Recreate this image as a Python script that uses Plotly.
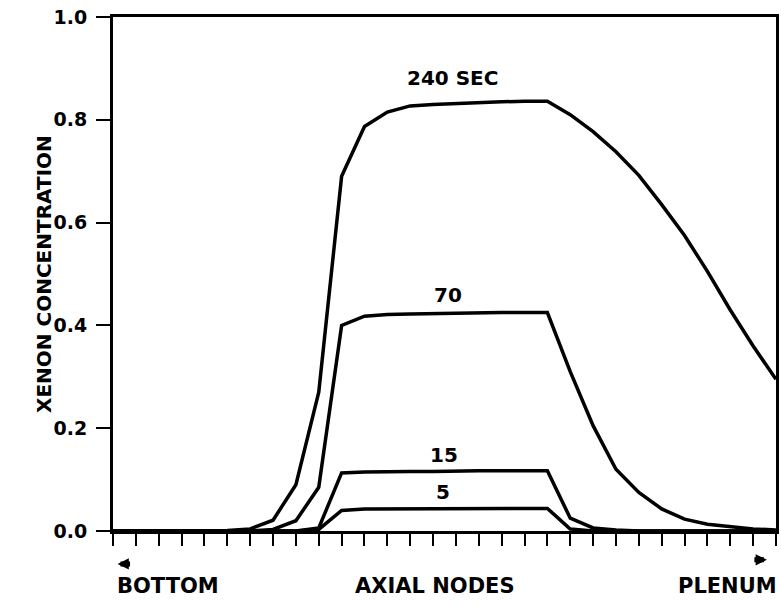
import plotly.graph_objects as go

nodes = list(range(30))
xe_5 = [0, 0, 0, 0, 0, 0, 0, 0, 0, 0.003, 0.040, 0.043, 0.043, 0.044, 0.044,
        0.044, 0.044, 0.044, 0.044, 0.044, 0.004, 0, 0, 0, 0, 0, 0, 0, 0, 0]
xe_15 = [0, 0, 0, 0, 0, 0, 0, 0, 0, 0.006, 0.113, 0.115, 0.116, 0.116, 0.116,
         0.117, 0.117, 0.117, 0.117, 0.117, 0.025, 0.006, 0.002, 0, 0, 0, 0, 0, 0, 0]
xe_70 = [0, 0, 0, 0, 0, 0, 0, 0.003, 0.02, 0.085, 0.40, 0.418, 0.421, 0.422, 0.423,
         0.424, 0.424, 0.425, 0.425, 0.425, 0.31, 0.205, 0.12, 0.075, 0.043, 0.023,
         0.013, 0.008, 0.004, 0.002]
xe_240 = [0, 0, 0, 0, 0, 0.001, 0.004, 0.021, 0.09, 0.27, 0.69, 0.787, 0.815, 0.827,
          0.830, 0.832, 0.834, 0.835, 0.836, 0.836, 0.81, 0.777, 0.738, 0.692, 0.635,
          0.575, 0.505, 0.43, 0.36, 0.295]

series = [("5", xe_5), ("15", xe_15), ("70", xe_70), ("240 SEC", xe_240)]
curve_labels = ["240 SEC", "70", "15", "5"]
y_ticks = [0.0, 0.2, 0.4, 0.6, 0.8, 1.0]

FONT = "DejaVu Sans"
fig = go.Figure()
for name, vals in series:
    fig.add_trace(go.Scatter(x=nodes, y=vals, mode="lines", name=name,
                             line=dict(color="black", width=3.5), showlegend=False))

fig.update_layout(
    width=781, height=607,
    margin=dict(l=113, r=2, t=17, b=76),
    paper_bgcolor="white", plot_bgcolor="white",
    font=dict(family=FONT, color="black", size=19, weight="bold"),
)
fig.update_xaxes(range=[0, 29], tick0=0, dtick=1, ticks="outside", ticklen=12,
                 tickwidth=2, tickcolor="black", showticklabels=False,
                 showline=True, linewidth=3, linecolor="black", mirror=True,
                 showgrid=False, zeroline=False)
fig.update_yaxes(range=[0, 1], tickvals=y_ticks, ticktext=[f"{v:.1f}" for v in y_ticks],
                 ticks="outside", ticklen=14, tickwidth=2, tickcolor="black",
                 ticklabelstandoff=5,
                 tickfont=dict(family=FONT, size=19, weight="bold", color="black"),
                 showline=True, linewidth=3, linecolor="black", mirror=True,
                 showgrid=False, zeroline=False)

label_pos = {"240 SEC": (14.87, 0.881), "70": (14.65, 0.459), "15": (14.48, 0.148), "5": (14.43, 0.076)}
for lab in curve_labels:
    lx, ly = label_pos[lab]
    fig.add_annotation(x=lx, y=ly, xref="x", yref="y", text=lab, showarrow=False,
                       font=dict(family=FONT, size=20, weight="bold", color="black"))

fig.add_annotation(x=0, y=0.5, xref="paper", yref="paper", xshift=-83,
                   text="XENON CONCENTRATION", textangle=-90, showarrow=False,
                   font=dict(family=FONT, size=20, weight="bold", color="black"))

bottom = [("BOTTOM", 2.39), ("AXIAL NODES", 14.09), ("PLENUM", 26.87)]
for txt, bx in bottom:
    fig.add_annotation(x=bx, y=0, xref="x", yref="paper", yshift=-55, text=txt,
                       showarrow=False, yanchor="middle",
                       font=dict(family=FONT, size=21, weight="bold", color="black"))

# direction arrows (head position, tail offset in px)
arrows = [(0.2, -0.064, 14), (28.6, -0.056, -14)]
for ax_x, ax_y, tail in arrows:
    fig.add_annotation(x=ax_x, y=ax_y, xref="x", yref="paper", text="",
                       showarrow=True, ax=tail, ay=0, arrowhead=2, arrowsize=0.45,
                       arrowwidth=5, arrowcolor="black")

fig.write_html(
    "out.html",
    config={"displayModeBar": False},
    post_script="document.body.style.margin='0';"
                "document.documentElement.style.overflow='hidden';"
                "document.body.style.overflow='hidden';",
)
